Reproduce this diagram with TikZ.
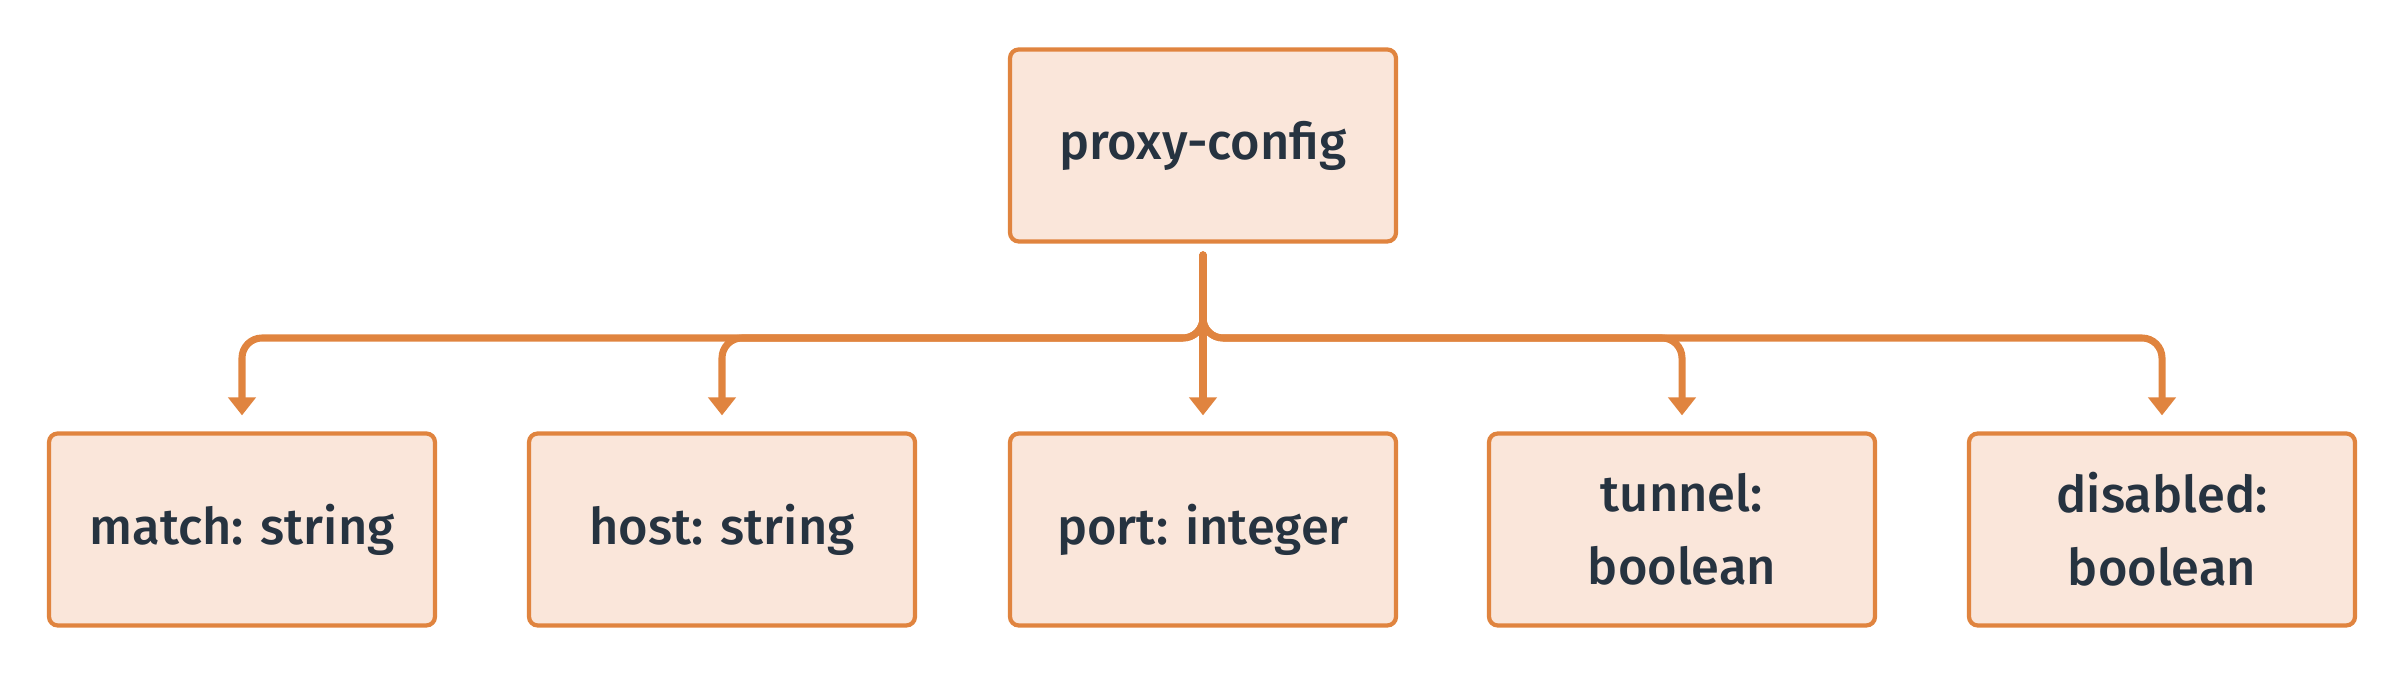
\documentclass[tikz,border=0pt]{standalone}
\usepackage{fontspec}
\setmainfont{Fira Sans}[UprightFont=* Medium]
\usepackage{tikz}
\usetikzlibrary{arrows.meta,backgrounds}
\definecolor{lorange}{HTML}{E0843F}
\definecolor{lpeach}{HTML}{FAE6DA}
\definecolor{ink}{HTML}{263340}
\pgfdeclarelayer{edgelayer}
\pgfdeclarelayer{nodelayer}
\pgfsetlayers{edgelayer,nodelayer,main}
\tikzstyle{field}=[rectangle, rounded corners=2.5pt, fill=lpeach, draw=lorange, line width=1.2pt, minimum width=3.86cm, minimum height=1.92cm, text=ink, align=center, font=\fontsize{14.4}{20.7}\selectfont]
\tikzstyle{arrow}=[-{Triangle[width=0.27cm,length=0.18cm]}, draw=lorange, line width=2pt, line cap=round, rounded corners=0.2cm, shorten >=0.16cm]

\begin{document}
\begin{tikzpicture}
            \useasboundingbox (0, 0) rectangle (24.04, 6.76);
            \begin{pgfonlayer}{nodelayer}
                \node [style=field] (root) at (12.03, 5.305) {proxy-config};

                \node [style=field] (match) at (2.42, 1.465) {match: string};
                \node [style=field] (host) at (7.22, 1.465) {host: string};
                \node [style=field] (port) at (12.03, 1.465) {port: integer};
                \node [style=field] (tunnel) at (16.82, 1.465) {tunnel:\\boolean};
                \node [style=field] (disabled) at (21.62, 1.465) {disabled:\\boolean};

                \coordinate (trunk) at (12.03, 4.21);
                \coordinate (bus) at (12.03, 3.38);
            \end{pgfonlayer}
            \begin{pgfonlayer}{edgelayer}
                \draw [style=arrow] (trunk) -- (port.north);
                \draw [style=arrow] (trunk) |- (bus -| match.north) -- (match.north);
                \draw [style=arrow] (trunk) |- (bus -| host.north) -- (host.north);
                \draw [style=arrow] (trunk) |- (bus -| tunnel.north) -- (tunnel.north);
                \draw [style=arrow] (trunk) |- (bus -| disabled.north) -- (disabled.north);
            \end{pgfonlayer}
        \end{tikzpicture}
\end{document}
